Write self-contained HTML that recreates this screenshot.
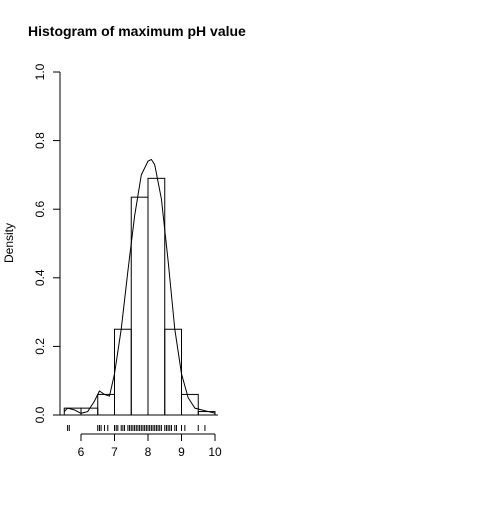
<!DOCTYPE html>
<html><head><meta charset="utf-8"><style>
body{margin:0;background:#fff}
svg text{font-family:"Liberation Sans",Arial,sans-serif;fill:#000}
</style></head><body>
<svg id="c" width="504" height="504" viewBox="0 0 504 504">
<rect width="504" height="504" fill="#fff"/>
<text x="28" y="36" font-size="14" font-weight="bold">Histogram of maximum pH value</text>
<text transform="translate(13,243) rotate(-90)" text-anchor="middle" font-size="12">Density</text>
<g id="g"></g>
</svg>
<script>
const binStarts=[5.5,6,6.5,7,7.5,8,8.5,9,9.5];
const binDensity=[0.02,0.02,0.06,0.25,0.635,0.69,0.25,0.06,0.01];
const curveX=[5.5,5.6,5.8,6.0,6.2,6.4,6.55,6.7,6.85,7.0,7.2,7.4,7.6,7.8,8.0,8.1,8.2,8.4,8.6,8.8,9.0,9.2,9.4,9.6,9.8,10.0];
const curveY=[0.01,0.02,0.015,0.005,0.01,0.04,0.07,0.06,0.055,0.12,0.25,0.42,0.58,0.70,0.74,0.745,0.73,0.63,0.45,0.25,0.12,0.05,0.02,0.015,0.01,0.005];
const rugX=[5.6,5.65,6.5,6.55,6.6,6.7,6.8,7.0,7.05,7.1,7.2,7.25,7.3,7.4,7.45,7.5,7.55,7.6,7.65,7.7,7.75,7.8,7.85,7.9,7.95,8.0,8.05,8.1,8.15,8.2,8.25,8.3,8.35,8.4,8.5,8.55,8.6,8.65,8.7,8.8,8.85,9.0,9.1,9.5,9.7];
const xTicks=[6,7,8,9,10];
const yTicks=[0,0.2,0.4,0.6,0.8,1.0];
const bw=0.5;
const X=v=>81+(v-6)*33.5, Y=v=>415-v*343;
const g=document.getElementById('g');const NS='http://www.w3.org/2000/svg';
function mk(t,a,p){const e=document.createElementNS(NS,t);for(const k in a)e.setAttribute(k,a[k]);(p||g).appendChild(e);return e;}
binStarts.forEach((s,i)=>{const r=mk('rect',{x:X(s),y:Y(binDensity[i]),width:X(s+bw)-X(s),height:Y(0)-Y(binDensity[i]),fill:'none',stroke:'#000'});

});
const p=mk('polyline',{points:curveX.map((x,i)=>X(x)+','+Y(curveY[i])).join(' '),fill:'none',stroke:'#000'});


rugX.forEach(v=>{const l=mk('line',{x1:X(v),x2:X(v),y1:425,y2:431,stroke:'#000'});

});
const xa=mk('line',{x1:X(xTicks[0]),x2:X(xTicks[xTicks.length-1]),y1:434,y2:434,stroke:'#000'});


xTicks.forEach(v=>{mk('line',{x1:X(v),x2:X(v),y1:434,y2:441,stroke:'#000'});
const t=mk('text',{x:X(v),y:456,'text-anchor':'middle','font-size':12});t.textContent=v;

});
const ya=mk('line',{x1:60,x2:60,y1:Y(yTicks[0]),y2:Y(yTicks[yTicks.length-1]),stroke:'#000'});


yTicks.forEach(v=>{mk('line',{x1:53,x2:60,y1:Y(v),y2:Y(v),stroke:'#000'});
const t=mk('text',{transform:`translate(44,${Y(v)}) rotate(-90)`,'text-anchor':'middle','font-size':12});t.textContent=v.toFixed(1);

});
mk('line',{x1:60,x2:218,y1:415,y2:415,stroke:'#000'});
</script>
</body></html>
